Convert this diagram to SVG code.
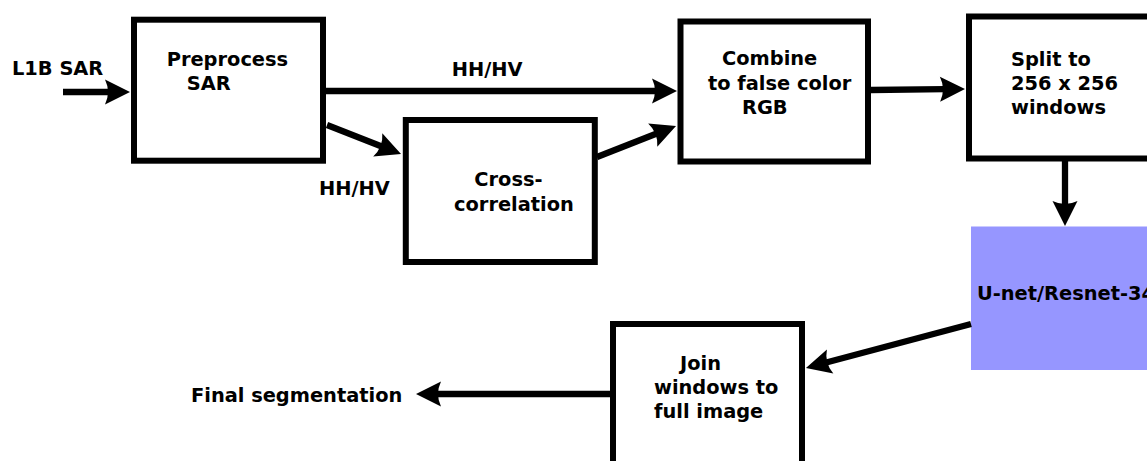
<svg xmlns="http://www.w3.org/2000/svg" width="1147" height="461" viewBox="0 0 1147 461">
<style>
.box{fill:#fff;stroke:#000;stroke-width:6}
.net{fill:#9696ff;stroke:none}
.t{font-family:"DejaVu Sans","Liberation Sans",sans-serif;font-weight:bold;font-size:19.4px;fill:#000}
.c{fill:none;stroke:#000;stroke-width:6.3;marker-end:url(#ah)}
</style>
<defs>
<marker id="ah" viewBox="-27 -14 50 28" refX="-20" refY="0" markerWidth="50" markerHeight="28" markerUnits="userSpaceOnUse" orient="auto" overflow="visible">
<path d="M0,0 L-25,-12.5 Q-19,0 -25,12.5 Z" fill="#000"/>
</marker>
</defs>
<rect width="1147" height="461" fill="#fff"/>
<g id="preprocess"><rect class="box" x="134" y="19.7" width="189" height="141"/><text class="t" x="166.7" y="65.5">Preprocess</text><text class="t" x="186.7" y="90">SAR</text></g>
<g id="cross"><rect class="box" x="405.8" y="120" width="189" height="142"/><text class="t" x="474.3" y="186">Cross-</text><text class="t" x="454" y="211">correlation</text></g>
<g id="combine"><rect class="box" x="680.5" y="21.5" width="187.5" height="140"/><text class="t" x="722" y="65">Combine</text><text class="t" x="708" y="89.5">to false color</text><text class="t" x="742" y="113.5">RGB</text></g>
<g id="split"><rect class="box" x="969" y="16.5" width="200" height="142"/><text class="t" x="1011" y="66">Split to</text><text class="t" x="1011" y="90">256 x 256</text><text class="t" x="1011" y="114">windows</text></g>
<g id="unet"><rect class="net" x="971" y="226.5" width="200" height="143.5"/><text class="t" x="977" y="300">U-net/Resnet-34</text></g>
<g id="join"><rect class="box" x="613" y="324" width="189" height="142"/><text class="t" x="680" y="370">Join</text><text class="t" x="654" y="393.5">windows to</text><text class="t" x="654" y="417.5">full image</text></g>
<g id="labels"><text class="t" x="12" y="75">L1B SAR</text><text class="t" x="451.7" y="76">HH/HV</text><text class="t" x="319" y="195">HH/HV</text><text class="t" x="191" y="402">Final segmentation</text></g>
<g id="connectors">
<path class="c" d="M63,92 L110,92"/>
<path class="c" d="M326,91 L657,91"/>
<path class="c" d="M327,125 L382.4,146.7"/>
<path class="c" d="M597,157 L657.4,133.3"/>
<path class="c" d="M871,90 L945,89.2"/>
<path class="c" d="M1065,161 L1065,206"/>
<path class="c" d="M971,324 L825.3,362.8"/>
<path class="c" d="M610,394 L436,394"/>
</g>
</svg>
